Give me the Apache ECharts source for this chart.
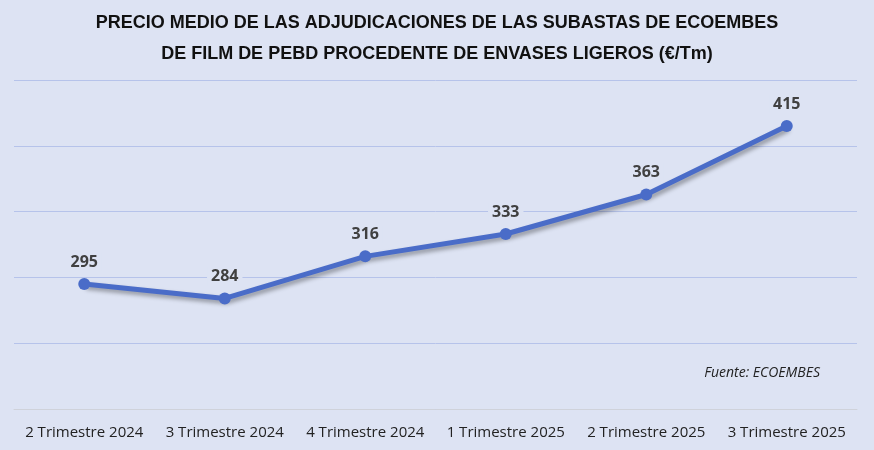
<!DOCTYPE html>
<html>
<head>
<meta charset="utf-8">
<script src="https://cdn.jsdelivr.net/npm/echarts@6.0.0/dist/echarts.min.js"></script>
<style>
  html, body { margin: 0; padding: 0; background: #dde3f3; }
  #chart { width: 874px; height: 450px; }
</style>
</head>
<body>
<div id="chart"></div>
<script>
const categories = ['2 Trimestre 2024', '3 Trimestre 2024', '4 Trimestre 2024', '1 Trimestre 2025', '2 Trimestre 2025', '3 Trimestre 2025']
const precios = [295, 284, 316, 333, 363, 415]

const bg = '#dde3f3'
const chart = echarts.init(document.getElementById('chart'))

chart.setOption({
  backgroundColor: bg,
  title: {
    text: 'PRECIO MEDIO DE LAS ADJUDICACIONES DE LAS SUBASTAS DE ECOEMBES\nDE FILM DE PEBD PROCEDENTE DE ENVASES LIGEROS (€/Tm)',
    left: 'center',
    top: 3,
    textStyle: {
      fontFamily: 'Liberation Sans, Arial, sans-serif',
      fontWeight: 'bold',
      fontSize: 18,
      lineHeight: 31,
      color: '#111'
    }
  },
  graphic: [{
    type: 'text',
    right: 54,
    top: 366,
    style: {
      text: 'Fuente: ECOEMBES',
      font: 'italic 14px "Open Sans", sans-serif',
      fill: '#222'
    }
  }],
  grid: { left: 14, right: 17, top: 80, bottom: 41 },
  xAxis: {
    type: 'category',
    data: categories,
    axisLine: { lineStyle: { color: '#cfd2da', width: 1 } },
    axisTick: { show: false },
    axisLabel: {
      interval: 0,
      color: '#222',
      fontSize: 15,
      fontFamily: 'Open Sans, sans-serif',
      margin: 16
    }
  },
  yAxis: {
    type: 'value',
    min: 200,
    max: 450,
    interval: 50,
    axisLabel: { show: false },
    axisLine: { show: false },
    axisTick: { show: false },
    splitLine: { lineStyle: { color: '#b6c3ea', width: 1 } }
  },
  series: [{
    type: 'line',
    data: precios,
    symbol: 'circle',
    symbolSize: 12,
    itemStyle: { color: '#4a6cc8' },
    lineStyle: {
      color: '#4a6cc8',
      width: 5,
      shadowColor: 'rgba(0,0,0,0.35)',
      shadowBlur: 4,
      shadowOffsetX: 2,
      shadowOffsetY: 3
    },
    label: {
      show: true,
      position: 'top',
      distance: 7,
      color: '#404040',
      fontWeight: 'bold',
      fontSize: 16,
      fontFamily: 'Open Sans, sans-serif',
      backgroundColor: bg,
      padding: [1, 4]
    }
  }]
})
</script>
</body>
</html>
